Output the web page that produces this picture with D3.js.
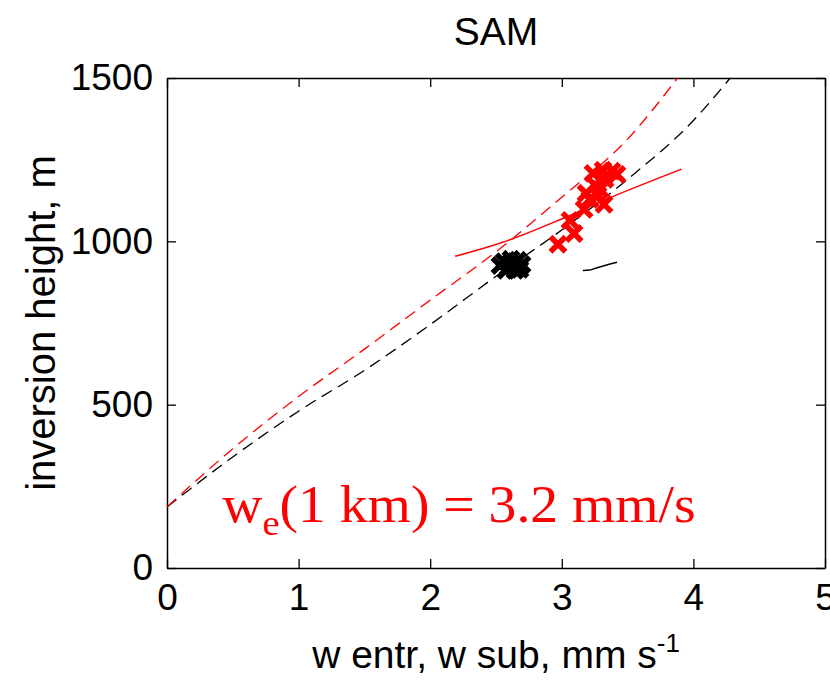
<!DOCTYPE html>
<html>
<head>
<meta charset="utf-8">
<script src="https://cdn.jsdelivr.net/npm/d3@7"></script>
<style>
  body { margin: 0; background: #fff; }
  svg text { font-family: "Liberation Sans", Arial, sans-serif; }
</style>
</head>
<body>
<div id="chart"></div>
<script>
// fitted curves (w, height)
var blackCurveX = [0, 0.5, 1.0, 1.5, 2.0, 2.5, 3.0, 3.5, 4.0, 4.28];
var blackCurveY = [187, 340, 480, 605, 745, 893, 1035, 1190, 1370, 1500];
var redCurveX = [0, 0.5, 1.0, 1.5, 2.0, 2.5, 3.0, 3.5, 3.88];
var redCurveY = [187, 365, 525, 670, 820, 968, 1135, 1313, 1500];

// red solid line
var redLineX = [2.19, 2.55, 2.99, 3.34, 3.91];
var redLineY = [954, 997, 1067, 1129, 1221];

// short black solid line
var blackLineX = [3.16, 3.21, 3.25, 3.42];
var blackLineY = [911, 912, 917, 936];

// markers
var blackPtsX = [2.530, 2.561, 2.591, 2.614, 2.637, 2.667, 2.698, 2.682, 2.576, 2.644, 2.606];
var blackPtsY = [926, 938, 920, 945, 929, 942, 929, 914, 911, 911, 932];
var redPtsX = [2.971, 3.093, 3.062, 3.169, 3.214, 3.275, 3.321, 3.252, 3.328, 3.237, 3.313, 3.381, 3.419, 3.290, 3.184];
var redPtsY = [991, 1024, 1064, 1098, 1129, 1141, 1113, 1172, 1190, 1208, 1218, 1215, 1205, 1159, 1147];

var xTicks = [0, 1, 2, 3, 4, 5];
var yTicks = [0, 500, 1000, 1500];

var margin = {top: 78, right: 5, bottom: 124, left: 167},
    width = 830 - margin.left - margin.right,
    height = 692 - margin.top - margin.bottom;

var svg = d3.select("#chart")
    .append("svg")
    .attr("width", 830)
    .attr("height", 692)
    .append("g")
    .attr("transform", "translate(" + margin.left + "," + margin.top + ")");

var x = d3.scaleLinear().domain([0, 5]).range([0, width]);
var y = d3.scaleLinear().domain([0, 1500]).range([height, 0]);

// axes, ticks inward like matlab
function styleAxis(g) {
    g.selectAll(".domain").attr("stroke", "#000").attr("stroke-width", 1.5);
    g.selectAll(".tick line").attr("stroke", "#000").attr("stroke-width", 1.3);
    g.selectAll(".tick text").attr("fill", "#000").attr("font-size", "37px")
        .attr("font-family", "Liberation Sans, Arial, sans-serif");
}

svg.append("g")
    .attr("transform", "translate(0," + height + ")")
    .call(d3.axisBottom(x).tickValues(xTicks).tickSizeInner(-9).tickSizeOuter(0).tickPadding(16).tickFormat(d3.format("d")))
    .call(styleAxis);
svg.append("g")
    .call(d3.axisTop(x).tickValues(xTicks).tickSizeInner(-9).tickSizeOuter(0).tickFormat(""))
    .call(styleAxis);
svg.append("g")
    .call(d3.axisLeft(y).tickValues(yTicks).tickSizeInner(-9).tickSizeOuter(0).tickPadding(14).tickFormat(d3.format("d")))
    .call(styleAxis);
svg.append("g")
    .attr("transform", "translate(" + width + ",0)")
    .call(d3.axisRight(y).tickValues(yTicks).tickSizeInner(-9).tickSizeOuter(0).tickFormat(""))
    .call(styleAxis);

// curves
function pts(xs, ys) { return xs.map(function(d, i) { return [d, ys[i]]; }); }
var line = d3.line()
    .x(function(d) { return x(d[0]); })
    .y(function(d) { return y(d[1]); })
    .curve(d3.curveMonotoneX);

svg.append("path").datum(pts(blackCurveX, blackCurveY))
    .attr("d", line).attr("fill", "none").attr("stroke", "#000")
    .attr("stroke-width", 1.3).attr("stroke-dasharray", "12,7");
svg.append("path").datum(pts(redCurveX, redCurveY))
    .attr("d", line).attr("fill", "none").attr("stroke", "#f00")
    .attr("stroke-width", 1.3).attr("stroke-dasharray", "12,7");
svg.append("path").datum(pts(redLineX, redLineY))
    .attr("d", line).attr("fill", "none").attr("stroke", "#f00").attr("stroke-width", 1.5);
svg.append("path").datum(pts(blackLineX, blackLineY))
    .attr("d", line).attr("fill", "none").attr("stroke", "#000").attr("stroke-width", 1.5);

// x markers
function drawMarkers(xs, ys, color) {
    var s = 7.5;
    svg.append("g").selectAll("path")
        .data(pts(xs, ys))
        .enter()
        .append("path")
        .attr("d", function(d) {
            var cx = x(d[0]), cy = y(d[1]);
            return "M" + (cx - s) + "," + (cy - s) + "L" + (cx + s) + "," + (cy + s) +
                   "M" + (cx - s) + "," + (cy + s) + "L" + (cx + s) + "," + (cy - s);
        })
        .attr("stroke", color)
        .attr("stroke-width", 5.5)
        .attr("fill", "none");
}
drawMarkers(blackPtsX, blackPtsY, "#000");
drawMarkers(redPtsX, redPtsY, "#f00");

// title
svg.append("text")
    .attr("x", width / 2)
    .attr("y", -33)
    .attr("text-anchor", "middle")
    .attr("font-size", "39px")
    .attr("fill", "#000")
    .text("SAM");

// x label
var xl = svg.append("text")
    .attr("x", width / 2)
    .attr("y", height + 100)
    .attr("text-anchor", "middle")
    .attr("font-size", "39px")
    .attr("fill", "#000");
xl.append("tspan").text("w entr, w sub, mm s");
xl.append("tspan").attr("dy", -16).attr("font-size", "26px").text("-1");

// y label
svg.append("text")
    .attr("transform", "translate(" + (-112) + "," + (height / 2) + ") rotate(-90)")
    .attr("text-anchor", "middle")
    .attr("font-size", "40px")
    .attr("fill", "#000")
    .text("inversion height, m");

// annotation
var serif = "Liberation Serif, Times New Roman, serif";
var ann = svg.append("text")
    .attr("transform", "translate(" + x(0.42) + "," + y(140) + ") scale(1.07,1)")
    .attr("font-family", serif)
    .attr("font-size", "52px")
    .attr("fill", "#f00");
ann.append("tspan").attr("font-family", serif).text("w");
ann.append("tspan").attr("font-family", serif).attr("font-size", "36px").attr("dy", 13).text("e");
ann.append("tspan").attr("font-family", serif).attr("dy", -13).text("(1 km) = 3.2 mm/s");
</script>
</body>
</html>
